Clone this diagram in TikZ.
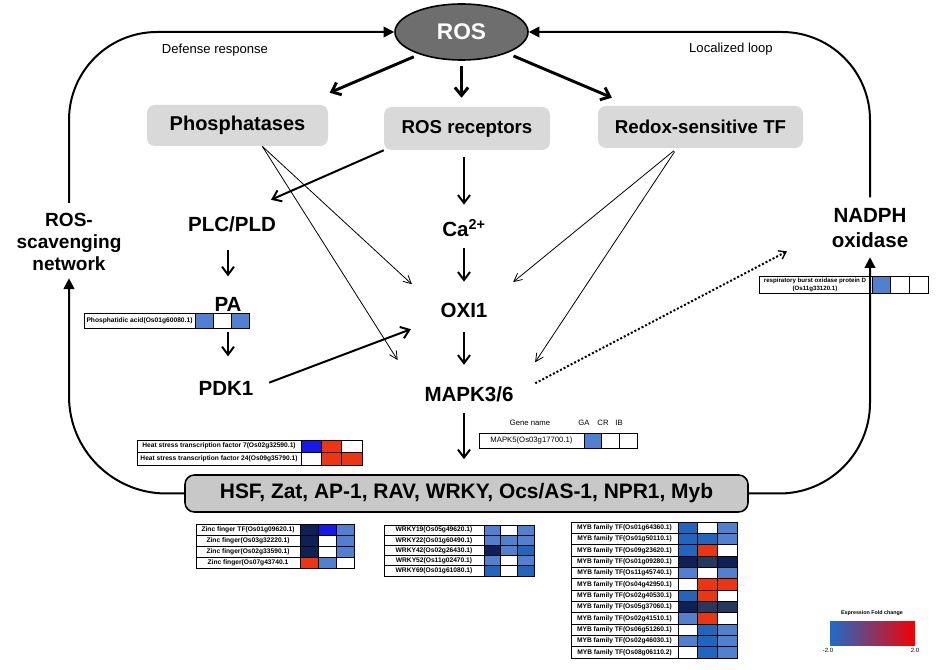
\documentclass[tikz,border=0pt]{standalone}
\usepackage{fontspec}
\setmainfont{Liberation Sans}
\usepackage{tikz}
\usetikzlibrary{arrows.meta,shapes.geometric}

\definecolor{boxgray}{RGB}{217,217,217}
\definecolor{hsfgray}{RGB}{200,200,200}
\definecolor{rosgray}{RGB}{110,110,110}
\definecolor{hmmid}{RGB}{79,129,208}
\definecolor{hmblue}{RGB}{30,102,192}
\definecolor{hmnavy}{RGB}{12,34,86}
\definecolor{hmslate}{RGB}{36,56,96}
\definecolor{hmbright}{RGB}{24,24,236}
\definecolor{hmred}{RGB}{240,52,16}
\definecolor{legblue}{RGB}{28,108,200}
\definecolor{leglight}{RGB}{204,212,232}
\definecolor{legred}{RGB}{245,0,0}

\begin{document}
\begin{tikzpicture}[x=0.75pt,y=-0.75pt,
  bigtxt/.style={font=\fontsize{15.4}{18}\selectfont\bfseries, inner sep=0pt, text height=11pt, text depth=0pt},
  graybox/.style={fill=boxgray, rounded corners=6pt, inner sep=0pt, font=\fontsize{14}{16}\selectfont\bfseries},
  fatarr/.style={line width=2.2pt, -{Straight Barb[length=6pt,width=10pt]}},
  midarr/.style={line width=1.5pt, -{Straight Barb[length=6pt,width=9pt]}},
  thinarr/.style={line width=0.6pt, -{Straight Barb[length=6pt,width=6pt]}},
  looparr/.style={line width=1.5pt, rounded corners=66pt, -{Triangle[length=8pt,width=8pt]}},
  hmgrid/.style={line width=0.6pt},
  hmtxt/.style={font=\fontsize{5}{6}\selectfont\bfseries, inner sep=0pt},
  smalltxt/.style={font=\fontsize{5.8}{7}\selectfont, inner sep=0pt}]
  \fill[white] (0,0) rectangle (940,670);
  \useasboundingbox (0,0) rectangle (940,670);

  \node[ellipse, draw, line width=1.2pt, fill=rosgray, text=white, minimum width=99.75pt, minimum height=42pt, inner sep=0pt, font=\fontsize{17}{20}\selectfont\bfseries] (ros) at (461.5,32) {ROS};
  \node[graybox, minimum width=135.75pt, minimum height=30.75pt, font=\fontsize{15}{17}\selectfont\bfseries] (phos) at (237.5,125.5) {Phosphatases};
  \node[graybox, minimum width=124.5pt, minimum height=32.25pt] (rec) at (467,128.5) {ROS receptors};
  \node[graybox, minimum width=153.75pt, minimum height=31.5pt] (redox) at (700.5,127) {Redox-sensitive TF};

  \node[bigtxt] (plc) at (232,224.5) {PLC/PLD};
  \node[bigtxt] (pa) at (228,304) {PA};
  \node[bigtxt] (pdk) at (226,388.5) {PDK1};
  \node[bigtxt] (ca) at (464,229.5) {Ca\textsuperscript{2+}};
  \node[bigtxt] (oxi) at (464,310.5) {OXI1};
  \node[bigtxt] (mapk) at (469,394.5) {MAPK3/6};
  \node[align=center, inner sep=0pt, font=\fontsize{14.3}{16.5}\selectfont\bfseries] (scav) at (69,242) {ROS-\\scavenging\\network};
  \node[align=center, inner sep=0pt, font=\fontsize{15.4}{18.75}\selectfont\bfseries] (nadph) at (870,228) {NADPH\\oxidase};
  \node[draw, line width=1.2pt, fill=hsfgray, rounded corners=7pt, minimum width=422.25pt, minimum height=27.75pt, inner sep=0pt, font=\fontsize{15.7}{18}\selectfont\bfseries] (hsf) at (466.5,493.5) {HSF, Zat, AP-1, RAV, WRKY, Ocs/AS-1, NPR1, Myb};
  \node[font=\fontsize{9.8}{12}\selectfont] (def) at (215,50) {Defense response};
  \node[font=\fontsize{9.8}{12}\selectfont] (loc) at (731,49) {Localized loop};

  \draw[fatarr, shorten <=4.5pt, shorten >=23pt] (ros.208) -- (phos.18);
  \draw[fatarr, shorten <=3.75pt, shorten >=6.75pt] (ros.south) -- (rec.north -| ros.south);
  \draw[fatarr, shorten <=5.3pt, shorten >=15.5pt] (ros.-25) -- (redox.163);
  \draw[midarr, shorten <=5.25pt, shorten >=12.9pt] (rec.south -| ca) -- (ca.north);
  \draw[midarr, shorten <=8.4pt, shorten >=15.9pt] (ca) -- (oxi);
  \draw[midarr, shorten <=10.7pt, shorten >=16.6pt] (oxi.south) -- (mapk.north -| oxi);
  \draw[midarr, shorten <=8.4pt, shorten >=11.25pt] (mapk.south -| oxi) -- (hsf.north -| oxi);
  \draw[midarr, shorten >=32pt] (rec.south west) -- (plc.north);
  \draw[midarr, shorten <=13.7pt, shorten >=15pt] (plc.south -| pa) -- (pa.north);
  \draw[midarr, shorten <=15.3pt, shorten >=18.4pt] (pa.south) -- (pdk.north -| pa);
  \draw[midarr, shorten <=12.4pt, shorten >=23.6pt] (pdk.east) -- (oxi.south west);
  \draw[thinarr, shorten >=29pt] (phos.-40) -- (oxi.west);
  \draw[thinarr, shorten >=37.3pt] (phos.-40) -- (mapk.south west);
  \draw[thinarr, shorten <=3pt, shorten >=24.7pt] (redox.222) -- (oxi.north east);
  \draw[thinarr, shorten <=3pt, shorten >=29pt] (redox.222) -- (mapk.east);
  \draw[line width=1.5pt, dash pattern=on 1.5pt off 1.5pt, -{Straight Barb[length=5pt,width=7pt,line width=1pt]}, shorten <=18.2pt, shorten >=37.7pt] (mapk.east) -- (nadph.west);

  \draw[hmgrid] (84,313) rectangle (195,328);
  \node[hmtxt] (pacid) at (139.5,320.5) {Phosphatidic acid(Os01g60080.1)};
  \foreach \c [count=\j from 0] in {hmmid,white,hmmid} \draw[hmgrid, fill=\c] (195+18*\j,313) rectangle ++(18,15);

  \draw[hmgrid] (759,276) rectangle (872,293);
  \node[hmtxt, align=center, font=\fontsize{4.6}{6}\selectfont\bfseries] (rboh) at (815,284.5) {respiratory burst oxidase protein D\\(Os11g33120.1)};
  \foreach \c [count=\j from 0] in {hmmid,white,white} \draw[hmgrid, fill=\c] (872+18.7*\j,276) rectangle ++(18.7,17);

  \node[smalltxt] (gname) at (530,423) {Gene name};
  \node[smalltxt] (ga) at (584,423) {GA};
  \node[smalltxt] (cr) at (603,423) {CR};
  \node[smalltxt] (ib) at (619,423) {IB};
  \draw[hmgrid] (479,433) rectangle (584,448);
  \node[smalltxt] (mk5) at (531.5,440.5) {MAPK5(Os03g17700.1)};
  \foreach \c [count=\j from 0] in {hmmid,white,white} \draw[hmgrid, fill=\c] (584+17.7*\j,433) rectangle ++(17.7,15);

  \foreach \lab/\ca/\cb/\cc [count=\i from 0] in {
      Heat stress transcription factor 7(Os02g32590.1)/hmbright/hmred/white,
      Heat stress transcription factor 24(Os09g35790.1)/white/hmred/hmred} {
    \draw[hmgrid] (137,440+12.5*\i) rectangle (301,452.5+12.5*\i);
    \node[hmtxt] (hs\i) at (219,446.25+12.5*\i) {\lab};
    \foreach \c [count=\j from 0] in {\ca,\cb,\cc}
      \draw[hmgrid, fill=\c] (301+20.3*\j,440+12.5*\i) rectangle ++(20.3,12.5);
  }

  \foreach \lab/\ca/\cb/\cc [count=\i from 0] in {
      Zinc finger TF(Os01g09620.1)/hmnavy/hmbright/hmmid,
      Zinc finger(Os03g32220.1)/hmnavy/white/hmmid,
      Zinc finger(Os02g33590.1)/hmnavy/white/hmmid,
      Zinc finger(Os07g43740.1/hmred/hmmid/white} {
    \draw[hmgrid] (196,524+11*\i) rectangle (300,535+11*\i);
    \node[hmtxt] (zf\i) at (248,529.5+11*\i) {\lab};
    \foreach \c [count=\j from 0] in {\ca,\cb,\cc}
      \draw[hmgrid, fill=\c] (300+18*\j,524+11*\i) rectangle ++(18,11);
  }

  \foreach \lab/\ca/\cb/\cc [count=\i from 0] in {
      WRKY19(Os05g49620.1)/hmmid/white/hmmid,
      WRKY22(Os01g60490.1)/hmmid/hmmid/hmmid,
      WRKY42(Os02g26430.1)/hmnavy/hmmid/hmblue,
      WRKY52(Os11g02470.1)/hmmid/white/hmmid,
      WRKY69(Os01g61080.1)/hmblue/white/hmblue} {
    \draw[hmgrid] (384,525+10.2*\i) rectangle (484,535.2+10.2*\i);
    \node[hmtxt] (wr\i) at (434,530.1+10.2*\i) {\lab};
    \foreach \c [count=\j from 0] in {\ca,\cb,\cc}
      \draw[hmgrid, fill=\c] (484+16.7*\j,525+10.2*\i) rectangle ++(16.7,10.2);
  }

  \foreach \lab/\ca/\cb/\cc [count=\i from 0] in {
      MYB family TF(Os01g64360.1)/hmblue/white/hmmid,
      MYB family TF(Os01g50110.1)/hmblue/hmblue/hmmid,
      MYB family TF(Os09g23620.1)/hmblue/hmred/white,
      MYB family TF(Os01g09280.1)/hmnavy/hmslate/hmnavy,
      MYB family TF(Os11g45740.1)/hmmid/white/hmmid,
      MYB family TF(Os04g42950.1)/white/hmred/hmred,
      MYB family TF(Os02g40530.1)/hmblue/hmred/white,
      MYB family TF(Os05g37060.1)/hmnavy/hmslate/hmslate,
      MYB family TF(Os02g41510.1)/hmmid/hmred/white,
      MYB family TF(Os06g51260.1)/white/hmblue/hmmid,
      MYB family TF(Os02g46030.1)/hmmid/hmblue/hmmid,
      MYB family TF(Os08g06110.2)/white/hmblue/hmmid} {
    \draw[hmgrid] (571,522+11.33*\i) rectangle (678,533.33+11.33*\i);
    \node[hmtxt] (myb\i) at (624.5,527.67+11.33*\i) {\lab};
    \foreach \c [count=\j from 0] in {\ca,\cb,\cc}
      \draw[hmgrid, fill=\c] (678+19.67*\j,522+11.33*\i) rectangle ++(19.67,11.33);
  }

  \node[font=\fontsize{4}{5}\selectfont\bfseries] (legt) at (872,613) {Expression Fold change};
  \shade[left color=legblue, middle color=leglight, right color=legred] (830,621) rectangle (915,645);
  \node[font=\fontsize{4.5}{5}\selectfont] (lmin) at (828,650) {-2.0};
  \node[font=\fontsize{4.5}{5}\selectfont] (lmax) at (915,650) {2.0};

  \draw[looparr, shorten <=7.5pt] (scav.north) |- (ros.west);
  \draw[looparr, shorten <=8pt] (nadph.north) |- (ros.east);
  \draw[looparr, rounded corners=73pt, shorten >=5.5pt] (hsf.west) -| (scav.south);
  \draw[looparr, rounded corners=68pt, shorten >=7pt] (hsf.east) -| (nadph.south);
\end{tikzpicture}
\end{document}
